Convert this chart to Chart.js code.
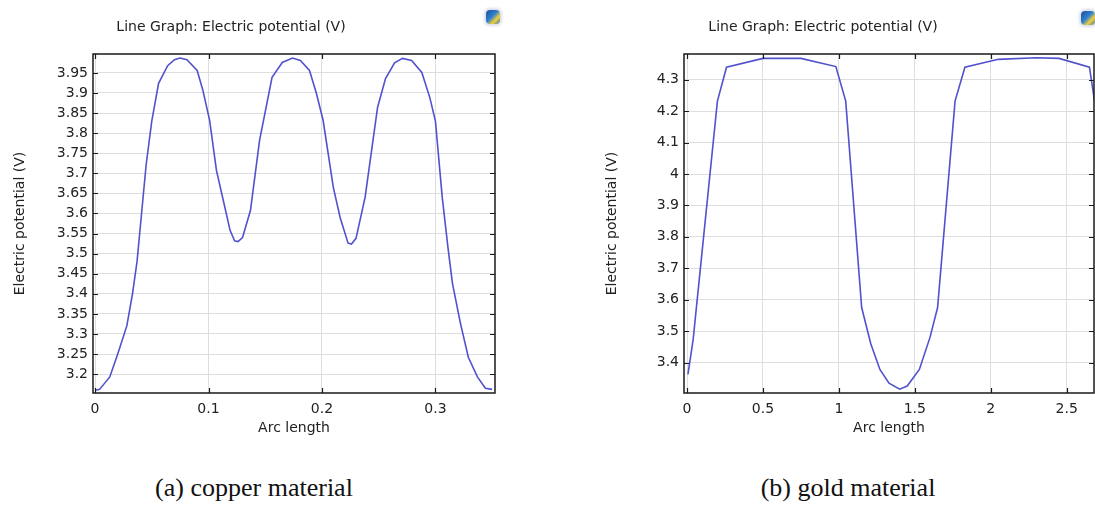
<!DOCTYPE html>
<html>
<head>
<meta charset="utf-8">
<script src="https://cdn.jsdelivr.net/npm/chart.js@4"></script>
<style>
  body { margin: 0; width: 1095px; height: 505px; background: #fff; position: relative; overflow: hidden; }
  canvas { position: absolute; top: 0; }
  .caption { position: absolute; top: 473px; line-height: 29px; font-family: "Liberation Serif", "Times New Roman", serif;
             font-size: 26px; color: #111; white-space: nowrap; transform: translateX(-50%); }
  .icon { position: absolute; width: 14px; height: 14px; border-radius: 4px;
          background: linear-gradient(135deg, #1d4f9c 0%, #2f7fd0 45%, #f2d13a 70%, #3a6fb8 100%);
          box-shadow: 0 0 3px 2px #d9dde8; }
</style>
</head>
<body>
<canvas id="copperChart" width="540" height="449" style="left:-33px"></canvas>
<canvas id="goldChart" width="543" height="449" style="left:552px"></canvas>
<div class="icon" style="left:486px; top:10px"></div>
<div class="icon" style="left:1081px; top:11px"></div>
<div class="caption" style="left:254px">(a) copper material</div>
<div class="caption" style="left:848px">(b) gold material</div>
<script>
// copper: arc length vs electric potential
const copperArc = [0, 0.004, 0.013, 0.02, 0.028, 0.033, 0.037, 0.041, 0.045, 0.05, 0.056, 0.064, 0.07, 0.075, 0.081,
  0.09, 0.095, 0.101, 0.107, 0.113, 0.119, 0.123, 0.126, 0.13, 0.137, 0.145, 0.156, 0.165, 0.174, 0.181, 0.189,
  0.195, 0.201, 0.21, 0.216, 0.223, 0.226, 0.23, 0.238, 0.249, 0.256, 0.264, 0.271, 0.279, 0.288, 0.295, 0.3,
  0.306, 0.311, 0.315, 0.322, 0.329, 0.337, 0.344, 0.35];
const copperPotential = [3.16, 3.162, 3.193, 3.25, 3.32, 3.40, 3.48, 3.60, 3.72, 3.83, 3.924, 3.968, 3.983, 3.987, 3.983,
  3.956, 3.907, 3.832, 3.707, 3.633, 3.558, 3.532, 3.53, 3.54, 3.608, 3.782, 3.939, 3.976, 3.987, 3.981, 3.956,
  3.9, 3.832, 3.665, 3.59, 3.526, 3.524, 3.538, 3.64, 3.864, 3.936, 3.975, 3.986, 3.981, 3.951, 3.889, 3.83,
  3.64, 3.516, 3.426, 3.327, 3.242, 3.193, 3.165, 3.162];

// gold
const goldArc = [0.006, 0.04, 0.2, 0.26, 0.5, 0.75, 0.98, 1.045, 1.15, 1.21, 1.27, 1.33, 1.4, 1.45, 1.53, 1.6,
  1.65, 1.765, 1.83, 2.05, 2.3, 2.45, 2.65, 2.7];
const goldPotential = [3.362, 3.472, 4.232, 4.34, 4.368, 4.368, 4.342, 4.232, 3.575, 3.46, 3.378, 3.334, 3.315,
  3.325, 3.378, 3.48, 3.575, 4.232, 4.34, 4.365, 4.37, 4.368, 4.34, 4.18];

const FONT = { family: 'DejaVu Sans', size: 14, weight: 'normal' };
const TEXT = '#222';

// COMSOL style box with inward ticks on all four sides
const frameTicks = {
  id: 'frameTicks',
  afterDatasetsDraw(chart) {
    const { ctx, chartArea: a, scales: { x, y } } = chart;
    ctx.save();
    ctx.strokeStyle = '#1a1a1a';
    ctx.lineWidth = 1.5;
    ctx.strokeRect(a.left, a.top, a.right - a.left, a.bottom - a.top);
    ctx.lineWidth = 1.2;
    ctx.beginPath();
    x.ticks.forEach(t => {
      const px = Math.round(x.getPixelForValue(t.value)) + 0.5;
      ctx.moveTo(px, a.bottom); ctx.lineTo(px, a.bottom - 5);
      ctx.moveTo(px, a.top); ctx.lineTo(px, a.top + 5);
    });
    y.ticks.forEach(t => {
      const py = Math.round(y.getPixelForValue(t.value)) + 0.5;
      ctx.moveTo(a.left, py); ctx.lineTo(a.left + 5, py);
      ctx.moveTo(a.right, py); ctx.lineTo(a.right - 5, py);
    });
    ctx.stroke();
    ctx.restore();
  }
};

const trim = v => String(+Number(v).toFixed(2));

function makeChart(id, xs, ys, opt) {
  return new Chart(document.getElementById(id), {
    type: 'line',
    data: {
      datasets: [{
        data: xs.map((x, i) => ({ x: x, y: ys[i] })),
        borderColor: 'rgb(82, 82, 206)',
        borderWidth: 1.6,
        pointRadius: 0,
        tension: 0,
        fill: false
      }]
    },
    options: {
      responsive: false,
      animation: false,
      devicePixelRatio: 1,
      layout: { padding: { left: 0, right: opt.padRight, top: 0, bottom: 0 } },
      plugins: {
        legend: { display: false },
        tooltip: { enabled: false },
        title: {
          display: true,
          text: 'Line Graph: Electric potential (V)',
          font: FONT,
          color: TEXT,
          padding: { top: 18.6, bottom: 18.6 }
        }
      },
      scales: {
        x: {
          type: 'linear',
          min: opt.xMin, max: opt.xMax,
          afterFit: s => { s.height = 56; },
          grid: { color: '#dedede', drawTicks: false },
          border: { display: false },
          ticks: { stepSize: opt.xStep, includeBounds: false, padding: 8, maxRotation: 0, autoSkip: false,
                   font: FONT, color: TEXT, callback: trim },
          title: { display: true, text: 'Arc length', font: FONT, color: TEXT, padding: { top: 0, bottom: 12.6 } }
        },
        y: {
          min: opt.yMin, max: opt.yMax,
          afterFit: s => { s.width = opt.yWidth; },
          grid: { color: '#dedede', drawTicks: false },
          border: { display: false },
          ticks: { stepSize: opt.yStep, includeBounds: false, padding: 5, autoSkip: false,
                   font: FONT, color: TEXT, callback: trim },
          title: { display: true, text: 'Electric potential (V)', font: FONT, color: TEXT,
                   padding: { top: opt.yTitlePad, bottom: 0 } }
        }
      }
    },
    plugins: [frameTicks]
  });
}

makeChart('copperChart', copperArc, copperPotential, {
  xMin: -0.0018, xMax: 0.3525, xStep: 0.1,
  yMin: 3.153, yMax: 3.997, yStep: 0.05,
  yWidth: 126, padRight: 12, yTitlePad: 44.6
});

makeChart('goldChart', goldArc, goldPotential, {
  xMin: -0.02, xMax: 2.68, xStep: 0.5,
  yMin: 3.303, yMax: 4.382, yStep: 0.1,
  yWidth: 132, padRight: 1, yTitlePad: 51.6
});
</script>
</body>
</html>
